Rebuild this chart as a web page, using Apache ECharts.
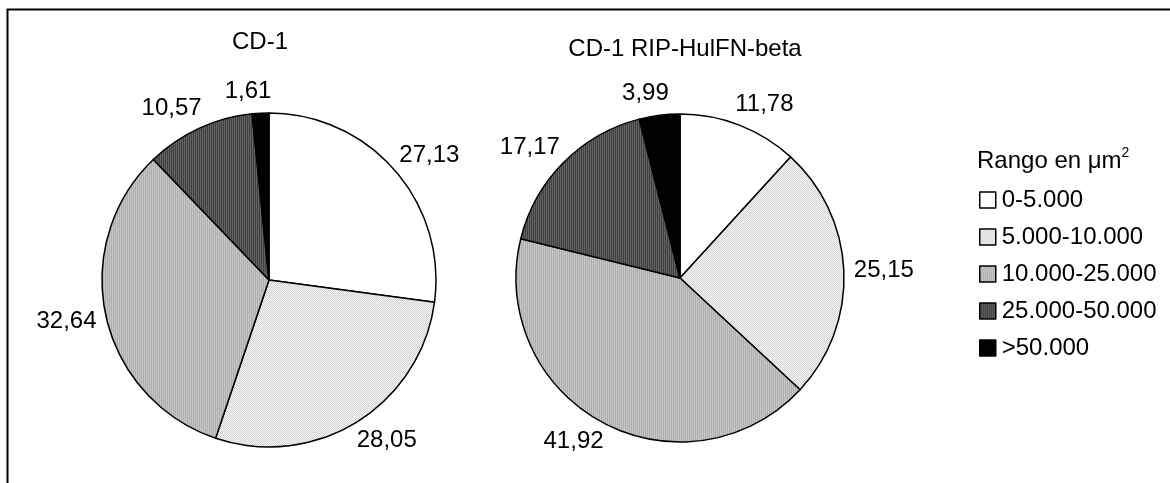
<!DOCTYPE html>
<html>
<head>
<meta charset="utf-8">
<script src="https://cdn.jsdelivr.net/npm/echarts@6/dist/echarts.min.js"></script>
<style>
  html, body { margin: 0; padding: 0; background: #fff; }
  #chart { width: 1170px; height: 483px; }
</style>
</head>
<body>
<div id="chart"></div>
<script>
// Size classes (µm²) and the percentage of cells in each class
const categories = ['0-5.000', '5.000-10.000', '10.000-25.000', '25.000-50.000', '>50.000'];
const valuesCD1 = [27.13, 28.05, 32.64, 10.57, 1.61];
const valuesRIP = [11.78, 25.15, 41.92, 17.17, 3.99];
const pieTitles = ['CD-1', 'CD-1 RIP-HulFN-beta'];
const legendTitle = 'Rango en μm';

const FONT = "'Liberation Sans', Arial, sans-serif";

// Small repeating canvas fills that give the slices their printed texture
function makePattern(w, h, painter) {
  const c = document.createElement('canvas');
  c.width = w; c.height = h;
  const ctx = c.getContext('2d');
  painter(ctx);
  return { image: c, repeat: 'repeat' };
}
const fillWhite = '#ffffff';
const fillDots = makePattern(2, 2, ctx => {
  ctx.fillStyle = '#f4f4f4'; ctx.fillRect(0, 0, 2, 2);
  ctx.fillStyle = '#d4d4d4'; ctx.fillRect(0, 0, 1, 1); ctx.fillRect(1, 1, 1, 1);
});
const fillMid = makePattern(2, 1, ctx => {
  ctx.fillStyle = '#c6c6c6'; ctx.fillRect(0, 0, 1, 1);
  ctx.fillStyle = '#aeaeae'; ctx.fillRect(1, 0, 1, 1);
});
const fillDark = makePattern(2, 1, ctx => {
  ctx.fillStyle = '#626262'; ctx.fillRect(0, 0, 1, 1);
  ctx.fillStyle = '#404040'; ctx.fillRect(1, 0, 1, 1);
});
const fillBlack = '#000000';
const fills = [fillWhite, fillDots, fillMid, fillDark, fillBlack];

function toData(values) {
  return categories.map((name, i) => ({ name, value: values[i] }));
}

function pieSeries(values, center, radius) {
  return {
    type: 'pie',
    center: center,
    radius: radius,
    startAngle: 90,
    clockwise: true,
    avoidLabelOverlap: false,
    silent: true,
    animation: false,
    data: toData(values),
    itemStyle: { borderColor: '#000', borderWidth: 1.5 },
    label: {
      show: true,
      position: 'outside',
      color: '#000',
      fontFamily: FONT,
      fontSize: 24,
      // pull the value text back toward the pie so it sits just off the rim
      distanceToLabelLine: -12,
      formatter: p => p.value.toFixed(2).replace('.', ',')
    },
    labelLine: { show: false, length: 22, length2: 0 },
    emphasis: { disabled: true }
  };
}

const chart = echarts.init(document.getElementById('chart'), null, { renderer: 'canvas' });

chart.setOption({
  backgroundColor: '#fff',
  animation: false,
  color: fills,
  title: [
    { text: pieTitles[0], left: 255, top: 25, textAlign: 'center',
      textStyle: { fontFamily: FONT, fontSize: 24, fontWeight: 'normal', color: '#000' } },
    { text: pieTitles[1], left: 680, top: 32, textAlign: 'center',
      textStyle: { fontFamily: FONT, fontSize: 24, fontWeight: 'normal', color: '#000' } }
  ],
  legend: {
    orient: 'vertical',
    left: 979,
    top: 188,
    padding: 0,
    itemWidth: 16,
    itemHeight: 16,
    itemGap: 13,
    icon: 'rect',
    selectedMode: false,
    data: categories,
    itemStyle: { borderColor: '#000', borderWidth: 1.5 },
    textStyle: { fontFamily: FONT, fontSize: 24, lineHeight: 24, color: '#000', padding: [0, 0, 0, 1] }
  },
  graphic: [
    // chart frame (left and top edges)
    { type: 'polyline', silent: true,
      shape: { points: [[7.5, 483], [7.5, 9.5], [1170, 9.5]] },
      style: { stroke: '#000', lineWidth: 2, fill: null } },
    // legend heading with superscript
    { type: 'text', left: 977, top: 146, silent: true,
      style: {
        text: '{a|' + legendTitle + '}{s|2}',
        rich: {
          a: { fontFamily: FONT, fontSize: 24, lineHeight: 30, fill: '#000' },
          s: { fontFamily: FONT, fontSize: 14, lineHeight: 14, verticalAlign: 'top', fill: '#000' }
        }
      } }
  ],
  series: [
    pieSeries(valuesCD1, [269, 280], 167),
    pieSeries(valuesRIP, [680, 278], 164)
  ]
});
</script>
</body>
</html>
